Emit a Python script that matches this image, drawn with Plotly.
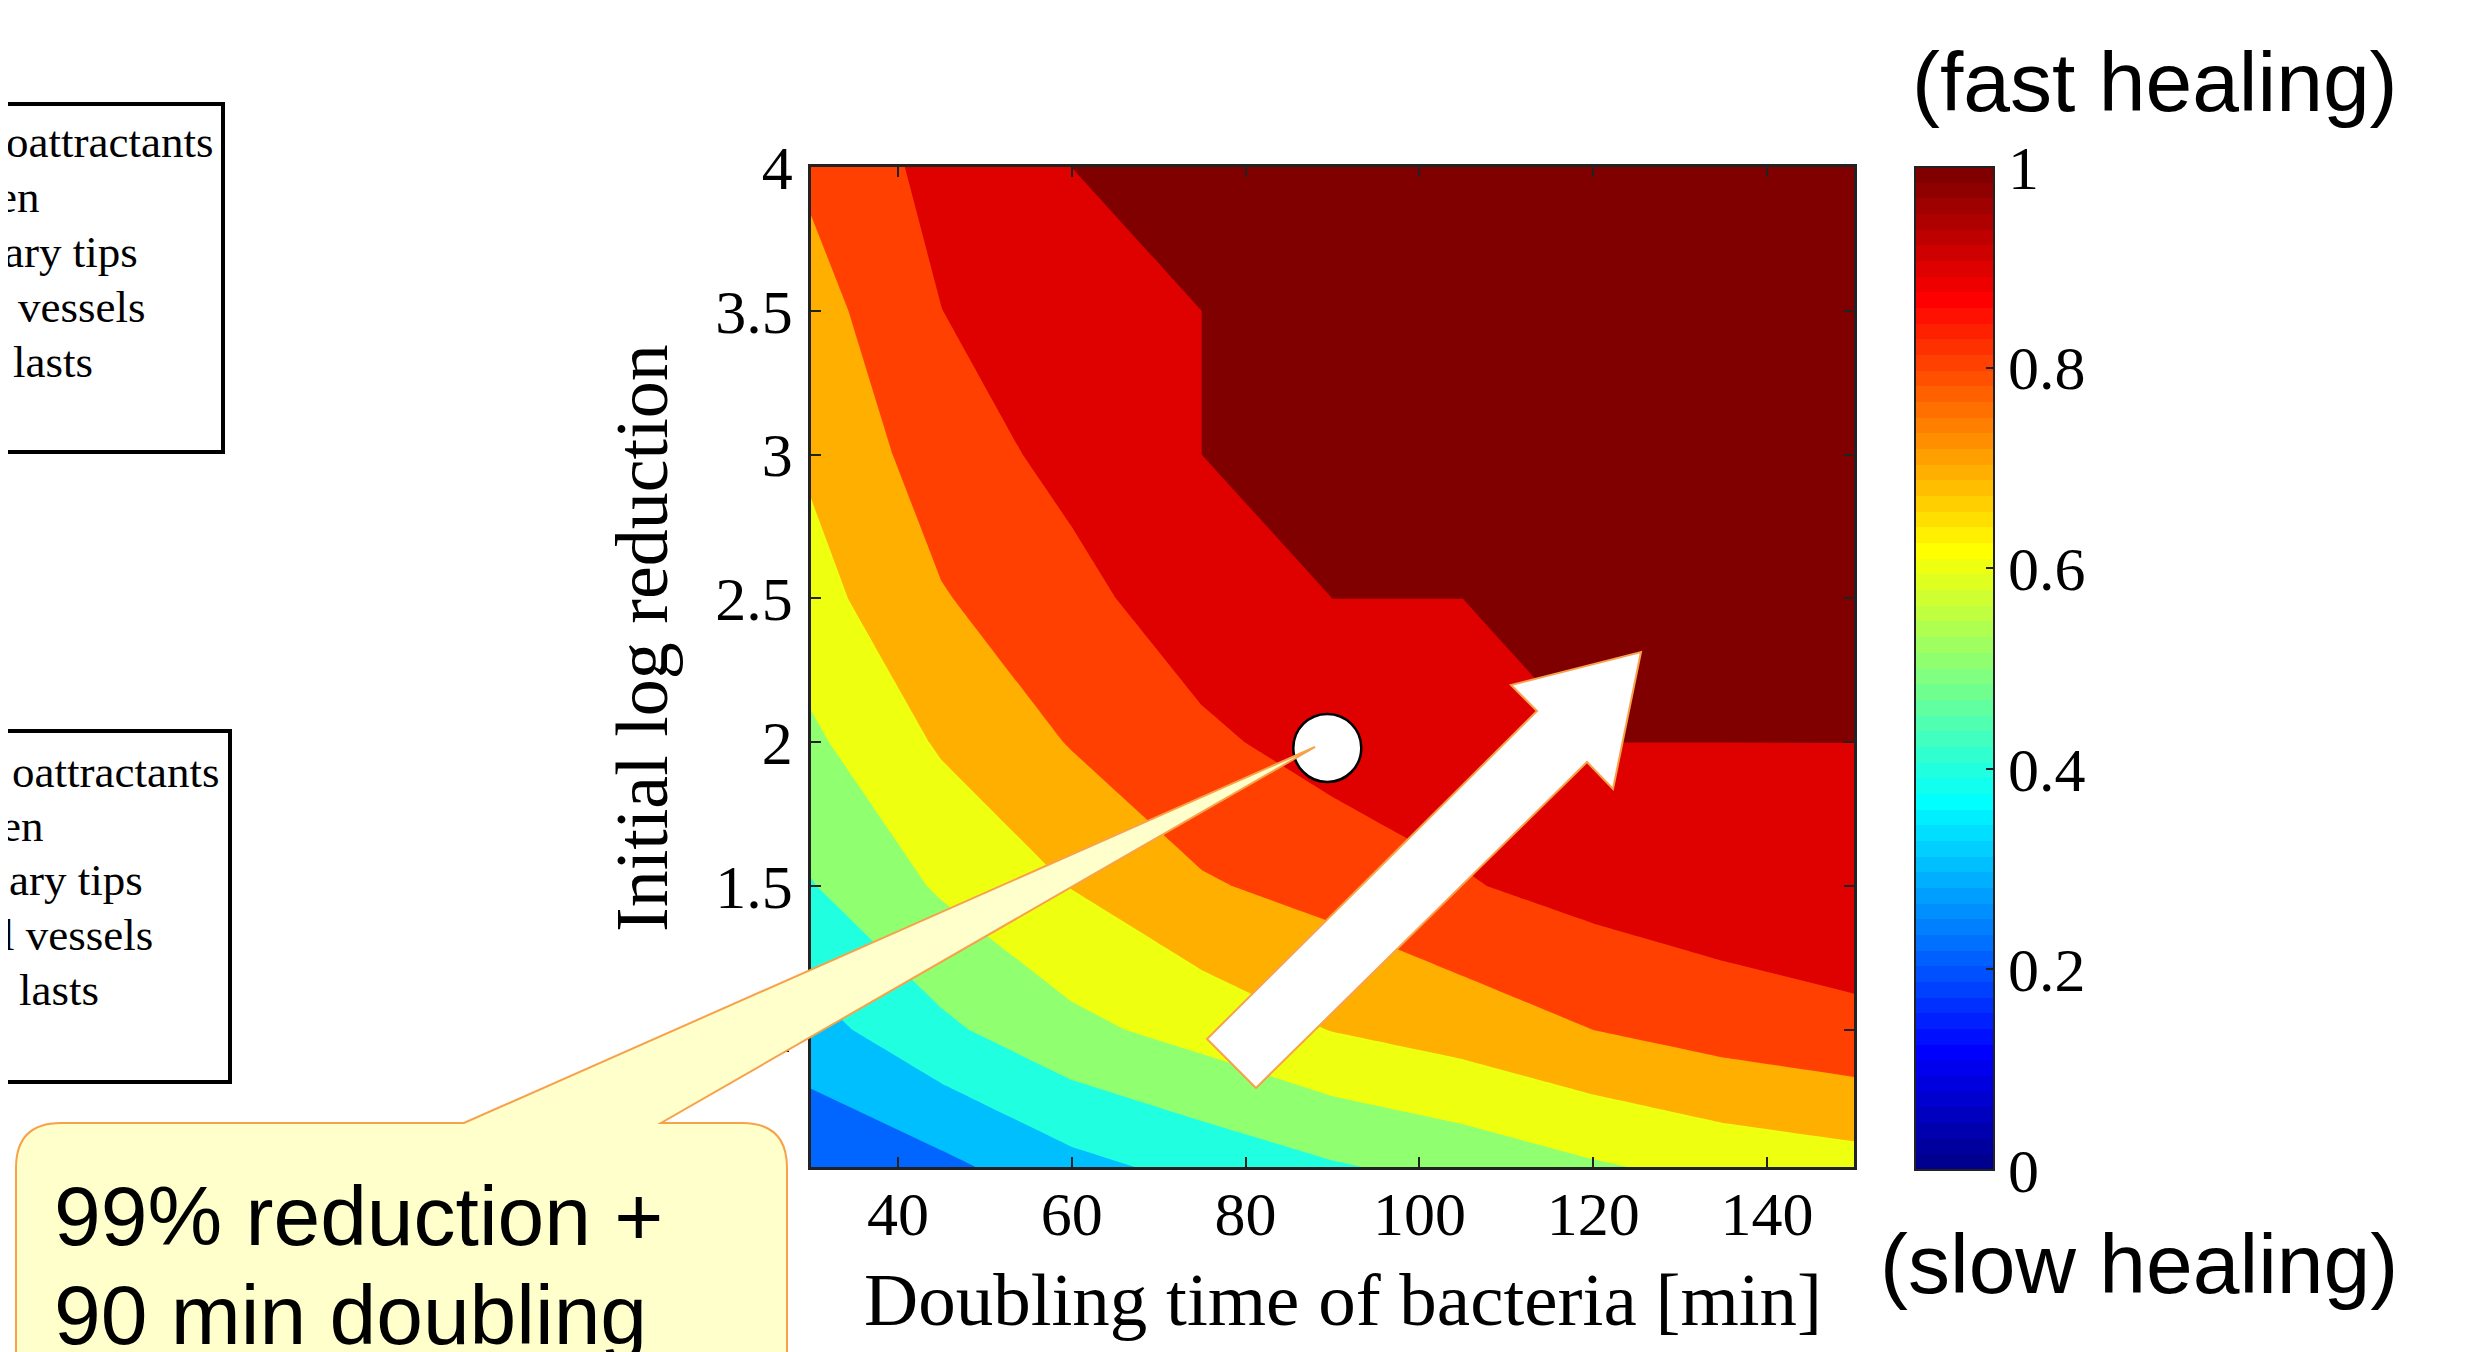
import plotly.graph_objects as go

# ---------------- data ----------------
doubling_time_min = [30, 45, 60, 75, 90, 105, 120, 135, 150]
initial_log_reduction = [0.523, 1.0, 1.5, 2.0, 2.5, 3.0, 3.5, 4.0]
healing_score = [
    [0.216, 0.275, 0.370, 0.432, 0.490, 0.534, 0.588, 0.633, 0.660],
    [0.363, 0.480, 0.575, 0.636, 0.703, 0.745, 0.800, 0.842, 0.873],
    [0.495, 0.613, 0.703, 0.790, 0.833, 0.892, 0.935, 0.963, 0.980],
    [0.582, 0.712, 0.806, 0.880, 0.941, 0.960, 1.000, 1.000, 1.000],
    [0.663, 0.793, 0.870, 0.958, 1.000, 1.000, 1.000, 1.000, 1.000],
    [0.716, 0.850, 0.930, 1.000, 1.000, 1.000, 1.000, 1.000, 1.000],
    [0.760, 0.899, 0.970, 1.000, 1.000, 1.000, 1.000, 1.000, 1.000],
    [0.820, 0.931, 1.000, 1.000, 1.000, 1.000, 1.000, 1.000, 1.000],
]
highlight_time = [89.4]
highlight_log = [1.98]
x_ticks = [40, 60, 80, 100, 120, 140]
x_tick_labels = ["40", "60", "80", "100", "120", "140"]
y_ticks = [1, 1.5, 2, 2.5, 3, 3.5, 4]
y_tick_labels = ["1", "1.5", "2", "2.5", "3", "3.5", "4"]
cbar_ticks = [0, 0.2, 0.4, 0.6, 0.8, 1]
cbar_tick_labels = ["0", "0.2", "0.4", "0.6", "0.8", "1"]
legend1_lines = ["oattractants", "en", "ary tips", "vessels", "lasts"]
legend2_lines = ["oattractants", "en", "ary tips", "l vessels", "lasts"]

# ---------------- layout geometry (reference pixels) ----------------
PAGE_OFF = 8                       # default <body> margin of the html page
W_FIG, H_FIG = 2469 - PAGE_OFF, 1352 - PAGE_OFF
L, R, T, B = 811, 1854, 167, 1167  # plot area in reference (window) pixels
PW, PH = R - L, B - T


def px(x):
    return (x - L) / PW


def py(y):
    return (B - y) / PH


band_colors = ["#0066ff", "#00bfff", "#20ffdf", "#90ff70", "#efff10",
               "#ffaf00", "#ff4000", "#df0000", "#800000"]
band_scale = [[k / (len(band_colors) - 1), c] for k, c in enumerate(band_colors)]


def jet64():
    n = 16
    u = [i / n for i in range(1, n + 1)] + [1.0] * (n - 1) + [i / n for i in range(n, 0, -1)]
    g = [n // 2 + i for i in range(1, len(u) + 1)]
    J = [[0.0, 0.0, 0.0] for _ in range(64)]
    for ch, off in ((0, n), (1, 0), (2, -n)):
        for gi, val in zip(g, u):
            idx = gi + off
            if 1 <= idx <= 64:
                J[idx - 1][ch] = val
    scale = []
    for k, (r, gg, b) in enumerate(J):
        c = "rgb(%d,%d,%d)" % (round(r * 255), round(gg * 255), round(b * 255))
        scale.append([k / 64, c])
        scale.append([(k + 1) / 64, c])
    return scale


SERIF = "Liberation Serif"
SANS = "Liberation Sans"
AXC = "#222222"
CB_L, CB_R, CB_T, CB_B = 1915, 1994, 167, 1170

fig = go.Figure()

fig.add_trace(go.Contour(
    x=doubling_time_min, y=initial_log_reduction, z=healing_score,
    autocontour=False,
    contours=dict(start=0.2999, end=0.9999, size=0.1, coloring="fill", showlines=False),
    line=dict(width=0, smoothing=0),
    colorscale=band_scale, showscale=False, hoverinfo="skip",
))

# colour bar (continuous jet, 64 steps)
fig.add_trace(go.Scatter(
    x=highlight_time, y=highlight_log, mode="markers", hoverinfo="skip",
    marker=dict(size=1, color=[0.5], cmin=0, cmax=1, colorscale=jet64(), showscale=True,
                colorbar=dict(x=px(CB_L), xanchor="left", xpad=0,
                              y=py(CB_B), yanchor="bottom", ypad=0,
                              len=CB_B - CB_T, lenmode="pixels",
                              thickness=CB_R - CB_L, thicknessmode="pixels",
                              outlinewidth=2, outlinecolor=AXC,
                              tickvals=cbar_ticks, ticktext=cbar_tick_labels,
                              ticks="inside", ticklen=9, tickcolor=AXC, tickwidth=1.5,
                              tickfont=dict(family=SERIF, size=62, color="black"))),
))

# highlighted scenario
fig.add_trace(go.Scatter(
    x=highlight_time, y=highlight_log, mode="markers", hoverinfo="skip",
    marker=dict(size=68, color="white", line=dict(color="black", width=2.5)),
))

shapes = []
# left-side tick marks of the colour bar
for v in cbar_ticks[1:-1]:
    yy = CB_B - v * (CB_B - CB_T)
    shapes.append(dict(type="line", xref="paper", yref="paper", layer="above",
                       x0=px(CB_L), x1=px(CB_L + 9), y0=py(yy), y1=py(yy),
                       line=dict(color=AXC, width=1.5)))

# legend boxes cut at the left edge
shapes.append(dict(type="rect", xref="paper", yref="paper", layer="above",
                   x0=px(-60), x1=px(223), y0=py(452), y1=py(104),
                   line=dict(color="black", width=4), fillcolor="white"))
shapes.append(dict(type="rect", xref="paper", yref="paper", layer="above",
                   x0=px(-60), x1=px(230), y0=py(1082), y1=py(731),
                   line=dict(color="black", width=4), fillcolor="white"))

# call-out bubble
x0c, x1c, ytc, ybc, rc = 16, 787, 1123, 1420, 45
bx1, bx2, tipx, tipy = 464, 661, 1315, 747


def P(x, y):
    return "%.5f,%.5f" % (px(x), py(y))


callout = ("M " + P(x0c, ybc) + " L " + P(x0c, ytc + rc) + " Q " + P(x0c, ytc) + " " + P(x0c + rc, ytc)
           + " L " + P(bx1, ytc) + " L " + P(tipx, tipy) + " L " + P(bx2, ytc)
           + " L " + P(x1c - rc, ytc) + " Q " + P(x1c, ytc) + " " + P(x1c, ytc + rc)
           + " L " + P(x1c, ybc) + " Z")
shapes.append(dict(type="path", xref="paper", yref="paper", layer="above", path=callout,
                   fillcolor="#ffffcc", line=dict(color="#f7a24a", width=2)))

# big white arrow
arrow_pts = [(1207, 1039), (1537, 711), (1511, 685), (1641, 652), (1613, 789), (1587, 762), (1256, 1088)]
arrow = "M " + " L ".join(P(x, y) for x, y in arrow_pts) + " Z"
shapes.append(dict(type="path", xref="paper", yref="paper", layer="above", path=arrow,
                   fillcolor="white", line=dict(color="#f7a24a", width=2)))

annotations = []


def txt(text, x, y, size, family, xanchor="center", angle=0):
    annotations.append(dict(text=text, x=px(x), y=py(y), xref="paper", yref="paper",
                            xanchor=xanchor, yanchor="middle", showarrow=False, textangle=angle,
                            font=dict(family=family, size=size, color="black")))


ends1 = [215, 41, 140, 148, 95]
ends2 = [221, 45, 145, 155, 101]
rows1 = [142, 197, 252, 307, 362]
rows2 = [772, 826, 880, 935, 990]
for t, xe, yy in zip(legend1_lines, ends1, rows1):
    txt(t, xe, yy, 45, SERIF, xanchor="right")
for t, xe, yy in zip(legend2_lines, ends2, rows2):
    txt(t, xe, yy, 45, SERIF, xanchor="right")

txt("99% reduction +", 52, 1216, 84, SANS, xanchor="left")
txt("90 min doubling", 52, 1315, 84, SANS, xanchor="left")
txt("(fast healing)", 2400, 82, 84, SANS, xanchor="right")
txt("(slow healing)", 2400, 1264, 84, SANS, xanchor="right")
txt("Doubling time of bacteria [min]", 1343, 1299, 75, SERIF)
txt("Initial log reduction", 642, 638, 74, SERIF, angle=-90)

fig.update_layout(
    width=W_FIG, height=H_FIG, autosize=False,
    margin=dict(l=L - PAGE_OFF, r=W_FIG - (R - PAGE_OFF), t=T - PAGE_OFF,
                b=H_FIG - (B - PAGE_OFF), pad=0),
    paper_bgcolor="white", plot_bgcolor="white", showlegend=False,
    font=dict(family=SERIF, color="black"),
    shapes=shapes, annotations=annotations,
    xaxis=dict(range=[30, 150], tickvals=x_ticks, ticktext=x_tick_labels,
               ticks="inside", ticklen=10, tickwidth=1.5, tickcolor=AXC,
               showline=True, linewidth=2.5, linecolor=AXC, mirror="ticks",
               showgrid=False, zeroline=False, ticklabelstandoff=-9,
               tickfont=dict(family=SERIF, size=62, color="black")),
    yaxis=dict(range=[0.523, 4], tickvals=y_ticks, ticktext=y_tick_labels,
               ticks="inside", ticklen=10, tickwidth=1.5, tickcolor=AXC,
               showline=True, linewidth=2.5, linecolor=AXC, mirror="ticks",
               showgrid=False, zeroline=False, ticklabelstandoff=3,
               tickfont=dict(family=SERIF, size=62, color="black")),
)

fig.write_html("out.html")
